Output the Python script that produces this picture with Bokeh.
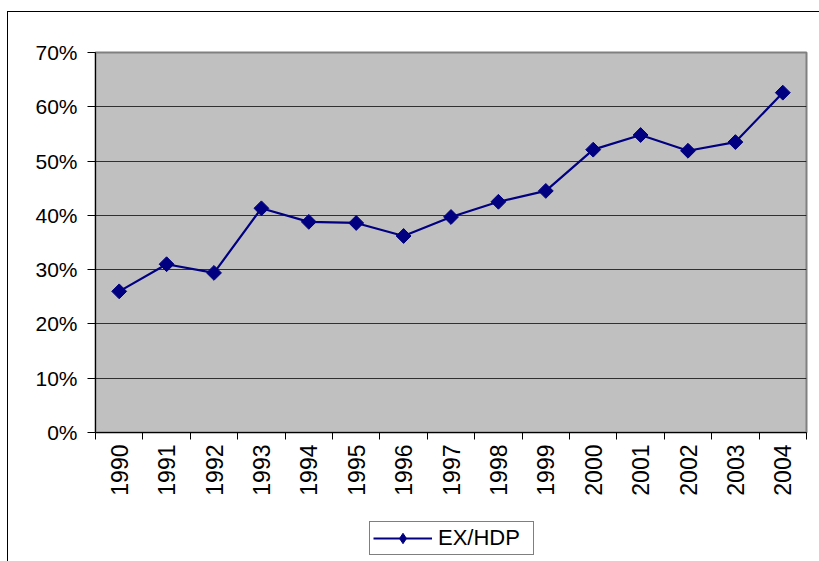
import numpy as np
from bokeh.plotting import figure
from bokeh.layouts import column
from bokeh.models import FixedTicker, NumeralTickFormatter, Range1d, Legend, LegendItem
from bokeh.embed import file_html
from bokeh.resources import INLINE

years = ["1990", "1991", "1992", "1993", "1994", "1995", "1996", "1997",
         "1998", "1999", "2000", "2001", "2002", "2003", "2004"]
ex_hdp = [0.260, 0.310, 0.294, 0.413, 0.388, 0.386, 0.362, 0.397,
          0.425, 0.445, 0.521, 0.548, 0.519, 0.535, 0.626]
y_ticks = [0.0, 0.1, 0.2, 0.3, 0.4, 0.5, 0.6, 0.7]
series_name = "EX/HDP"

n = len(years)
xs = [i + 0.5 for i in range(n)]

FONT = "Liberation Sans"
NAVY = "#000080"

p = figure(width=811, height=500,
           min_border_left=87, min_border_right=13, min_border_top=40,
           min_border_bottom=80, output_backend="svg", toolbar_location=None,
           x_range=Range1d(0, n), y_range=Range1d(0, 0.7))

p.background_fill_color = "#c0c0c0"
p.border_fill_color = "white"
p.outline_line_color = "#808080"
p.outline_line_width = 2

# grid
p.xgrid.visible = False
p.ygrid.ticker = FixedTicker(ticks=y_ticks)
p.ygrid.grid_line_color = "#000000"
p.ygrid.grid_line_width = 1
p.ygrid.grid_line_alpha = 0.75

# x axis: labels at category centres, ticks at boundaries
p.xaxis.ticker = FixedTicker(ticks=xs, minor_ticks=list(range(n + 1)))
p.xaxis.major_label_overrides = {x: y for x, y in zip(xs, years)}
p.xaxis.major_label_orientation = np.pi / 2
p.xaxis.major_tick_line_color = None
p.xaxis.major_tick_out = 0
p.xaxis.major_tick_in = 0
p.xaxis.minor_tick_out = 7
p.xaxis.minor_tick_in = 0
p.xaxis.minor_tick_line_color = "black"
p.xaxis.axis_line_color = "black"
p.xaxis.major_label_standoff = 5
p.xaxis.major_label_text_font = FONT
p.xaxis.major_label_text_font_size = "23px"
p.xaxis.major_label_text_color = "black"

# y axis
p.yaxis.ticker = FixedTicker(ticks=y_ticks)
p.yaxis.formatter = NumeralTickFormatter(format="0%")
p.yaxis.major_tick_out = 8
p.yaxis.major_tick_in = 0
p.yaxis.minor_tick_line_color = None
p.yaxis.axis_line_color = "black"
p.yaxis.major_label_standoff = 10
p.yaxis.major_label_text_font = FONT
p.yaxis.major_label_text_font_size = "21px"
p.yaxis.major_label_text_color = "black"

# series
p.line(xs, ex_hdp, line_color=NAVY, line_width=2.2)
p.scatter(xs, ex_hdp, marker="square", angle=np.pi / 4, size=10.5,
          fill_color=NAVY, line_color=NAVY)

# legend strip (separate small figure below, inside the same chart frame);
# the series is drawn there outside its visible range so only the legend shows
lf = figure(width=811, height=49, min_border=0, output_backend="svg",
            toolbar_location=None, x_range=Range1d(1000, 1001), y_range=Range1d(1000, 1001))
lf.axis.visible = False
lf.grid.visible = False
lf.outline_line_color = None
lf.background_fill_color = "white"
lf.border_fill_color = "white"
ll = lf.line(xs, ex_hdp, line_color=NAVY, line_width=2.2)
ls = lf.scatter(xs, ex_hdp, marker="diamond", size=17, fill_color=NAVY, line_color=NAVY)

lg = Legend(items=[LegendItem(label=series_name, renderers=[ll, ls])])
lg.location = (274, 6)
lg.orientation = "horizontal"
lg.glyph_width = 59
lg.glyph_height = 26
lg.label_standoff = 6
lg.label_width = 92
lg.padding = 3
lg.margin = 0
lg.label_text_font = FONT
lg.label_text_font_size = "22px"
lg.label_text_color = "black"
lg.border_line_color = "black"
lg.border_line_width = 1
lg.background_fill_color = "white"
lg.background_fill_alpha = 1.0
lf.add_layout(lg)

layout = column(p, lf, spacing=0)
layout.margin = (11, 0, 0, 7)
layout.styles = {"border-top": "1px solid black", "border-left": "1px solid black"}

open("out.html", "w").write(file_html(layout, INLINE))
